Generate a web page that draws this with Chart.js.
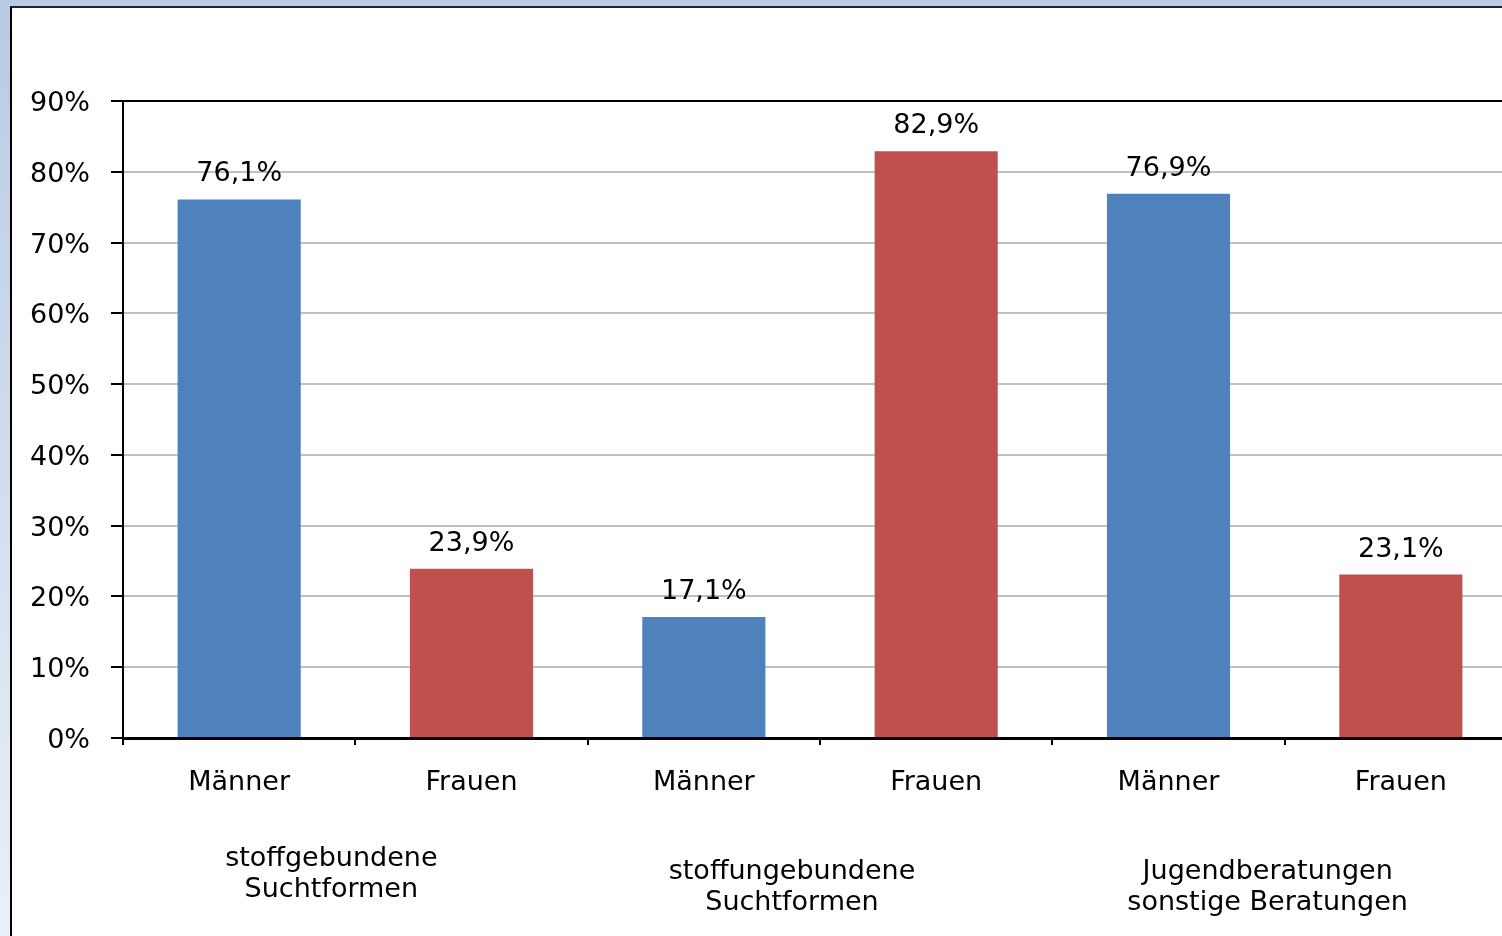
<!DOCTYPE html>
<html>
<head>
<meta charset="utf-8">
<script src="https://cdn.jsdelivr.net/npm/chart.js@4"></script>
<style>
  html, body { margin: 0; padding: 0; width: 1502px; height: 936px; overflow: hidden; }
  body { background: linear-gradient(to bottom, #b7cbe4, #eaf0f9); position: relative; }
  #panel { position: absolute; left: 10px; top: 6px; right: 0; bottom: 0; background: #fff;
           border-left: 2px solid #000; border-top: 2px solid #1c2430; }
  #chart { position: absolute; left: 0; top: 0; }
</style>
</head>
<body>
<div id="panel"></div>
<canvas id="chart" width="1517" height="936"></canvas>
<script>
// Data
const categories = ['Männer', 'Frauen', 'Männer', 'Frauen', 'Männer', 'Frauen'];
const shares = [76.1, 23.9, 17.1, 82.9, 76.9, 23.1];
const groupLabels = [
  ['stoffgebundene', 'Suchtformen'],
  ['stoffungebundene', 'Suchtformen'],
  ['Jugendberatungen', 'sonstige Beratungen'],
];

// Styles
const BLUE = '#4f81bd';
const RED = '#c0504d';
const FONT = 'DejaVu Sans, Verdana, sans-serif';
const barColors = categories.map(c => (c === 'Männer' ? BLUE : RED));
// nudges for the group captions (dx, first line centre y)
const groupShift = [
  { dx: -24, y: 859 },
  { dx: -28, y: 872 },
  { dx: -17, y: 872 },
];

// German number format: 76.1 -> 76,1%
function pct(v) {
  return v.toFixed(1).replace('.', ',') + '%';
}

// Labels over the bars
const valueLabels = {
  id: 'valueLabels',
  afterDatasetsDraw(chart) {
    const ctx = chart.ctx;
    const meta = chart.getDatasetMeta(0);
    ctx.save();
    ctx.font = '27px ' + FONT;
    ctx.fillStyle = '#000';
    ctx.textAlign = 'center';
    ctx.textBaseline = 'middle';
    meta.data.forEach((bar, i) => {
      ctx.fillText(pct(shares[i]), bar.x, bar.y - 25);
    });
    ctx.restore();
  }
};

// Second row of category captions
const groupCaptions = {
  id: 'groupCaptions',
  afterDraw(chart) {
    const ctx = chart.ctx;
    const x = chart.scales.x;
    ctx.save();
    ctx.font = '27px ' + FONT;
    ctx.fillStyle = '#000';
    ctx.textAlign = 'center';
    ctx.textBaseline = 'middle';
    groupLabels.forEach((lines, g) => {
      const cx = (x.getPixelForValue(2 * g) + x.getPixelForValue(2 * g + 1)) / 2 + groupShift[g].dx;
      lines.forEach((line, k) => {
        ctx.fillText(line, cx, groupShift[g].y + k * 31);
      });
    });
    ctx.restore();
  }
};

new Chart(document.getElementById('chart'), {
  type: 'bar',
  data: {
    labels: categories,
    datasets: [{
      data: shares,
      backgroundColor: barColors,
      borderWidth: 0,
      categoryPercentage: 1,
      barPercentage: 0.53,
    }]
  },
  plugins: [valueLabels, groupCaptions],
  options: {
    responsive: false,
    animation: false,
    events: [],
    layout: { padding: { top: 101, left: 0, right: 0, bottom: 0 } },
    plugins: {
      legend: { display: false },
      tooltip: { enabled: false },
    },
    scales: {
      x: {
        afterFit(scale) { scale.height = 936 - 738; },
        border: { color: '#000', width: 3 },
        grid: {
          offset: true,
          drawOnChartArea: false,
          tickLength: 7,
          tickColor: '#000',
          lineWidth: 2,
        },
        ticks: {
          color: '#000',
          font: { family: FONT, size: 27 },
          padding: 22,
          maxRotation: 0,
          autoSkip: false,
        },
      },
      y: {
        min: 0,
        max: 90,
        afterFit(scale) { scale.width = 123; },
        border: { color: '#000', width: 2 },
        grid: {
          color: ctx => (ctx.tick && ctx.tick.value === 90 ? '#000' : '#c0c0c0'),
          lineWidth: 2,
          tickLength: 12,
          tickColor: '#000',
        },
        ticks: {
          stepSize: 10,
          color: '#000',
          font: { family: FONT, size: 27, lineHeight: 1.0 },
          padding: 21,
          labelOffset: 3,
          callback: v => v + '%',
        },
      },
    },
  },
});
</script>
</body>
</html>
